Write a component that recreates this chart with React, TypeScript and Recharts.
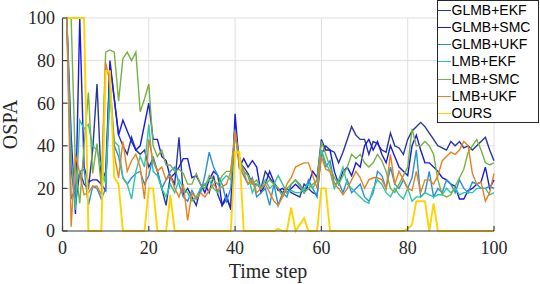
import React from 'react';
import { LineChart, Line, XAxis, YAxis, CartesianGrid, Legend } from 'recharts';

const timeSteps = [
  1, 2, 3, 4, 5, 6, 7, 8, 9, 10, 11, 12, 13, 14, 15, 16, 17, 18, 19, 20,
  21, 22, 23, 24, 25, 26, 27, 28, 29, 30, 31, 32, 33, 34, 35, 36, 37, 38, 39, 40,
  41, 42, 43, 44, 45, 46, 47, 48, 49, 50, 51, 52, 53, 54, 55, 56, 57, 58, 59, 60,
  61, 62, 63, 64, 65, 66, 67, 68, 69, 70, 71, 72, 73, 74, 75, 76, 77, 78, 79, 80,
  81, 82, 83, 84, 85, 86, 87, 88, 89, 90, 91, 92, 93, 94, 95, 96, 97, 98, 99, 100,
];

const glmbEkf = [
  100, 30, 12, 28, 22, 20, 38, 69, 22, 28,
  78, 62, 45, 40, 36, 44, 38, 36, 38, 30,
  34, 28, 20, 12, 26, 22, 44, 17, 20, 16,
  12, 20, 22, 18, 26, 17, 12, 15, 11, 50,
  32, 30, 27, 22, 22, 20, 28, 25, 22, 20,
  18, 20, 18, 17, 16, 22, 20, 18, 17, 36,
  40, 38, 37, 32, 37, 43, 49, 45, 43, 43,
  36, 42, 41, 38, 37, 46, 40, 39, 36, 43,
  47, 49, 51, 49, 46, 43, 40, 39, 38, 42,
  40, 42, 39, 40, 38, 40, 42, 44, 38, 33,
];

const glmbSmc = [
  100, 45, 8, 100, 30, 23, 24, 24, 22, 19,
  80, 62, 45, 52, 47, 42, 38, 40, 50, 60,
  43, 43, 35, 33, 25, 27, 30, 34, 34, 25,
  26, 22, 18, 24, 28, 26, 12, 17, 10, 55,
  30, 34, 30, 33, 30, 18, 22, 28, 23, 19,
  20, 18, 20, 22, 20, 18, 22, 28, 25, 43,
  38, 38, 28, 22, 28, 30, 26, 32, 30, 40,
  43, 38, 42, 36, 32, 40, 35, 30, 28, 26,
  40, 45, 38, 32, 32, 30, 28, 25, 24, 22,
  21, 15, 15, 19, 20, 22, 23, 30, 20, 24,
];

const glmbUkf = [
  100, 15, 20, 28, 29, 12, 21, 20, 15, 20,
  65, 40, 35, 25, 22, 25, 27, 28, 22, 26,
  35, 28, 20, 24, 28, 30, 22, 16, 14, 19,
  15, 18, 26, 37, 30, 26, 22, 14, 20, 48,
  30, 26, 22, 25, 16, 18, 20, 12, 22, 12,
  18, 16, 22, 24, 22, 18, 24, 20, 16, 38,
  30, 33, 22, 23, 18, 24, 18, 20, 22, 16,
  14, 18, 28, 26, 20, 30, 22, 20, 24, 20,
  25, 38, 16, 18, 28, 16, 20, 18, 24, 22,
  18, 24, 20, 18, 23, 22, 20, 20, 21, 20,
];

const lmbEkf = [
  100, 35, 10, 52, 48, 50, 40, 38, 30, 22,
  70, 42, 40, 25, 22, 15, 28, 35, 30, 50,
  28, 26, 20, 16, 22, 18, 24, 20, 18, 14,
  16, 20, 22, 24, 20, 18, 24, 26, 24, 45,
  33, 28, 26, 18, 22, 20, 24, 20, 22, 26,
  22, 18, 19, 18, 18, 20, 22, 20, 24, 38,
  32, 28, 20, 24, 30, 22, 20, 18, 16, 14,
  13, 20, 24, 22, 18, 16, 20, 17, 15, 20,
  14, 16, 16, 18, 17, 16, 17, 17, 20, 18,
  20, 17, 18, 18, 18, 20, 20, 20, 17, 18,
];

const lmbSmc = [
  100, 100, 30, 13, 40, 65, 27, 41, 21, 84,
  85, 84, 61, 81, 84, 80, 84, 56, 62, 69,
  40, 35, 38, 31, 31, 28, 29, 27, 22, 22,
  27, 22, 20, 26, 24, 22, 26, 28, 28, 45,
  35, 28, 26, 22, 24, 20, 22, 24, 22, 20,
  16, 20, 22, 24, 21, 18, 20, 22, 24, 42,
  36, 30, 25, 22, 26, 30, 36, 34, 36, 32,
  30, 32, 36, 33, 28, 20, 18, 22, 26, 30,
  48, 40, 40, 42, 40, 36, 24, 17, 16, 17,
  21, 25, 29, 37, 40, 43, 38, 32, 31, 32,
];

const lmbUkf = [
  100, 2, 36, 27, 17, 18, 21, 21, 17, 79,
  70, 36, 25, 42, 28, 33, 36, 30, 15, 43,
  33, 28, 30, 24, 26, 20, 16, 22, 5, 18,
  15, 18, 16, 19, 22, 19, 21, 22, 28, 47,
  30, 28, 22, 24, 18, 20, 22, 18, 14, 12,
  16, 22, 25, 30, 31, 32, 32, 26, 20, 35,
  29, 28, 22, 20, 17, 20, 24, 28, 25, 20,
  24, 25, 25, 24, 20, 36, 22, 28, 24, 20,
  19, 28, 18, 24, 24, 22, 26, 33, 35, 37,
  36, 38, 42, 40, 27, 22, 23, 14, 18, 27,
];

const ours = [
  100, 100, 100, 100, 100, 0, 0, 0, 0, 75,
  75, 25, 22, 0, 0, 0, 0, 0, 0, 20,
  20, 0, 0, 0, 17, 0, 0, 0, 0, 0,
  0, 0, 0, 0, 0, 0, 0, 0, 0, 37,
  37, 0, 0, 0, 0, 0, 0, 0, 0, 1,
  0, 0, 11, 0, 3, 6, 0, 0, 0, 20,
  20, 0, 0, 0, 0, 0, 0, 0, 0, 0,
  0, 0, 0, 0, 0, 0, 0, 0, 0, 1,
  3, 14, 14, 14, 0, 13, 0, 0, 0, 0,
  0, 0, 0, 0, 0, 0, 0, 0, 0, 0,
];

const seriesNames = ['GLMB+EKF', 'GLMB+SMC', 'GLMB+UKF', 'LMB+EKF', 'LMB+SMC', 'LMB+UKF', 'OURS'];
const seriesKeys = ['glmbEkf', 'glmbSmc', 'glmbUkf', 'lmbEkf', 'lmbSmc', 'lmbUkf', 'ours'];
const seriesValues = [glmbEkf, glmbSmc, glmbUkf, lmbEkf, lmbSmc, lmbUkf, ours];
const seriesColors = ['#26379a', '#1a1ae0', '#2690d6', '#30c4a6', '#76b143', '#e5821f', '#fdd400'];

const xTicks = [0, 20, 40, 60, 80, 100];
const yTicks = [0, 20, 40, 60, 80, 100];

const data = timeSteps.map((t, i) => {
  const row: Record<string, number> = { x: t };
  seriesKeys.forEach((k, s) => {
    row[k] = seriesValues[s][i];
  });
  return row;
});

const axisColor = '#404040';
const serif = '"Liberation Serif", "Times New Roman", serif';
const sans = '"Liberation Sans", Arial, sans-serif';

const renderLegend = () => (
  <div
    style={{
      width: 100,
      height: 120,
      border: '1px solid #262626',
      background: '#ffffff',
      paddingTop: 1,
      boxSizing: 'content-box',
    }}
  >
    {seriesNames.map((name, i) => (
      <div key={name} style={{ height: 17.15, display: 'flex', alignItems: 'center' }}>
        <span
          style={{
            display: 'inline-block',
            width: 12.5,
            height: 0,
            borderTop: `1.5px solid ${seriesColors[i]}`,
            marginLeft: 0.5,
            marginRight: 1,
          }}
        />
        <span style={{ fontFamily: sans, fontSize: 14, color: '#000', lineHeight: '17px', whiteSpace: 'nowrap' }}>
          {name}
        </span>
      </div>
    ))}
  </div>
);

export default function App() {
  return (
    <div style={{ position: 'absolute', left: 0, top: 0, width: 540, height: 284, background: '#fff' }}>
      <LineChart width={540} height={284} data={data} margin={{ top: 18, right: 46, left: 0, bottom: 0 }}>
        <CartesianGrid stroke="#dfdfdf" strokeWidth={1} horizontalValues={yTicks} verticalValues={xTicks} />
        <XAxis
          dataKey="x"
          type="number"
          domain={[0, 100]}
          ticks={xTicks}
          interval={0}
          height={53}
          tickSize={-5}
          tickMargin={15}
          axisLine={{ stroke: axisColor, strokeWidth: 1.2 }}
          tickLine={{ stroke: axisColor, strokeWidth: 1.2 }}
          tick={{ fill: '#262626', fontSize: 18, fontFamily: serif }}
          label={{
            content: () => (
              <text x={268} y={278} textAnchor="middle" fontFamily={serif} fontSize={20} fill="#262626">
                Time step
              </text>
            ),
          }}
        />
        <XAxis
          xAxisId="top"
          orientation="top"
          type="number"
          domain={[0, 100]}
          ticks={xTicks}
          interval={0}
          height={0}
          tickSize={-5}
          tick={false}
          axisLine={{ stroke: axisColor, strokeWidth: 1.2 }}
          tickLine={{ stroke: axisColor, strokeWidth: 1.2 }}
        />
        <YAxis
          type="number"
          domain={[0, 100]}
          ticks={yTicks}
          interval={0}
          width={62.5}
          tickSize={-5}
          tickMargin={12.5}
          axisLine={{ stroke: axisColor, strokeWidth: 1.2 }}
          tickLine={{ stroke: axisColor, strokeWidth: 1.2 }}
          tick={{ fill: '#262626', fontSize: 18, fontFamily: serif }}
          label={{
            content: () => (
              <text
                x={17}
                y={124.5}
                transform="rotate(-90 17 124.5)"
                textAnchor="middle"
                fontFamily={serif}
                fontSize={20}
                fill="#262626"
              >
                OSPA
              </text>
            ),
          }}
        />
        <YAxis
          yAxisId="right"
          orientation="right"
          type="number"
          domain={[0, 100]}
          ticks={yTicks}
          interval={0}
          width={0}
          tickSize={-5}
          tick={false}
          axisLine={{ stroke: axisColor, strokeWidth: 1.2 }}
          tickLine={{ stroke: axisColor, strokeWidth: 1.2 }}
        />
        {seriesKeys.map((k, i) => (
          <Line
            key={k}
            type="linear"
            dataKey={k}
            name={seriesNames[i]}
            stroke={seriesColors[i]}
            strokeWidth={k === 'ours' ? 1.9 : 1.4}
            dot={false}
            activeDot={false}
            isAnimationActive={false}
          />
        ))}
        <Legend
          layout="vertical"
          align="center"
          verticalAlign="middle"
          content={renderLegend}
          wrapperStyle={{ position: 'absolute', left: 436.5, top: 0, width: 102, height: 123 }}
        />
      </LineChart>
    </div>
  );
}
